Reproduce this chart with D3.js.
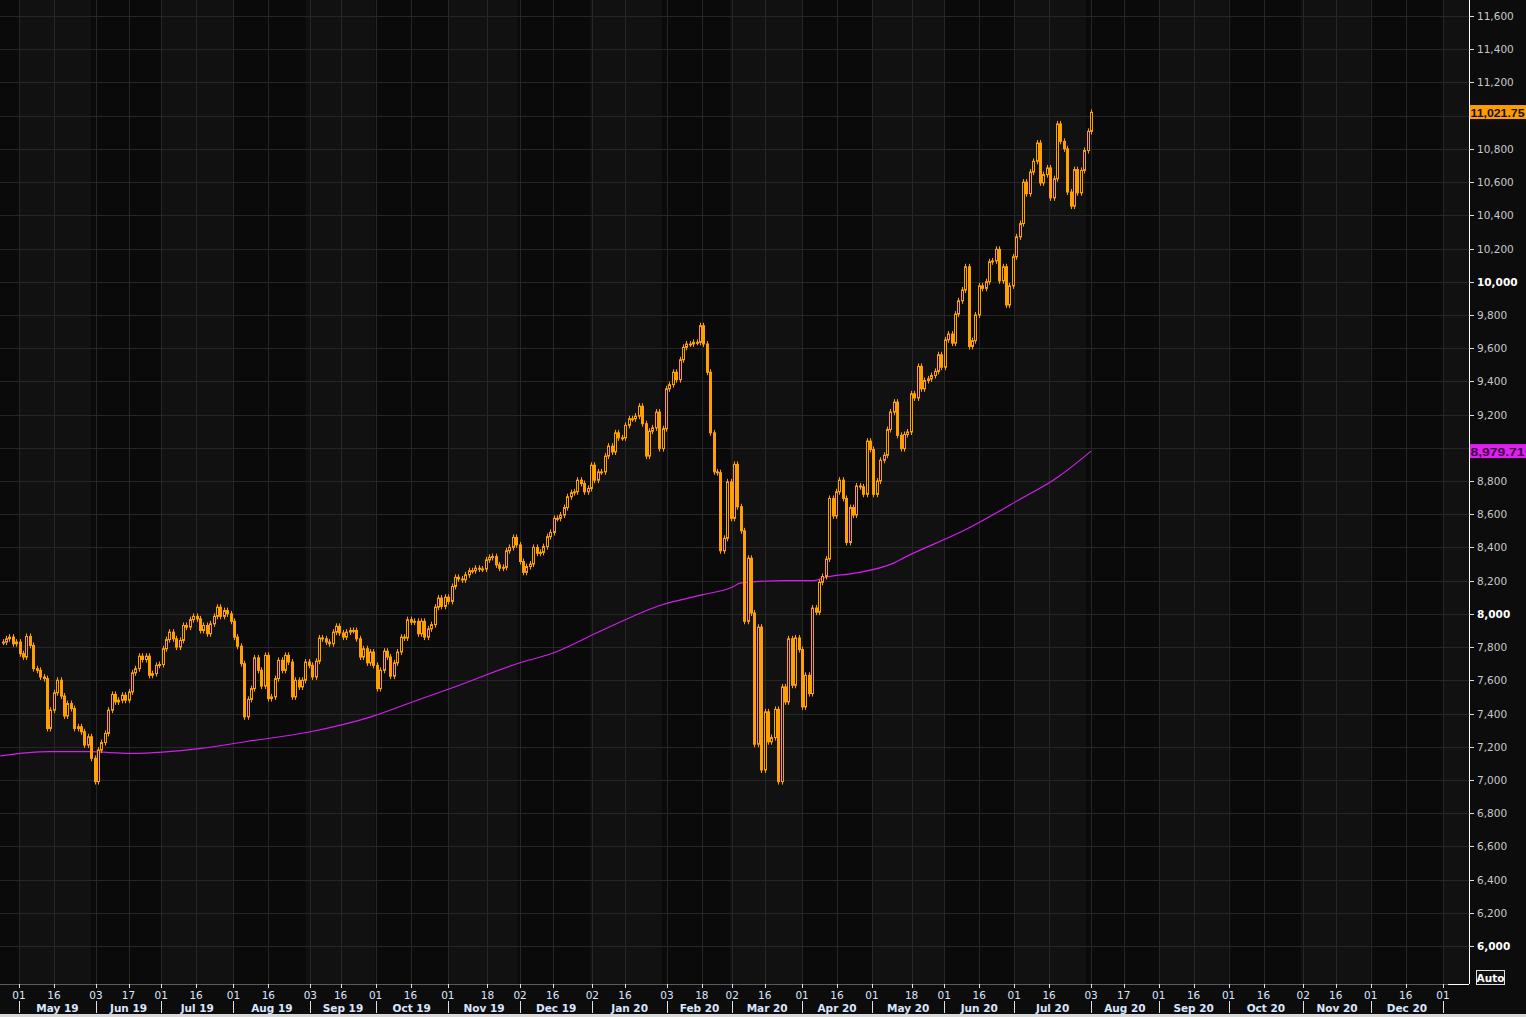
<!DOCTYPE html>
<html><head><meta charset="utf-8">
<script src="https://cdn.jsdelivr.net/npm/d3@7"></script>
<style>html,body{margin:0;padding:0;background:#0c0c0c;overflow:hidden}svg{display:block}</style>
</head><body><svg id="c" width="1526" height="1017"></svg>
<script>
// ---- data (daily closes, oldest first) ----
const closesA = [7830,7850,7860,7820,7830,
 7760,7740,7864,7810,7670,7660,7620,7610,7310,7420,7525,7600,7505,7385,7460,7430,7310,7320,7290,7210,7260,7130,
 6990,7180,7225,7280,7420,7515,7470,7480,7510,7480,7530,7645,7670,7745,7725,7745,7630,7640,7690,7695,
 7790,7845,7890,7850,7800,7840,7930,7920,7965];
const closesB = [7985,7970,7900,7930,7880,7940,7985,8040,7985,8020,8000,7955,7860,
 7805,7700,7380,7485,7550,7735,7660,7565,7750,7490,7500,7610,7720,7660,7750,7710,7500,7600,7560,7600,7710,7690,
 7620,7715,7855,7850,7830,7820,7890,7925,7885,7860,7890,7900,7900,7850,7740];
const closesC = [7790,7705,7770,7690,7550,
 7660,7775,7740,7625,7705,7770,7860,7855,7965,7950,7955,7880,7955,7860,7910,7935,8040,8095,8045,8100,8075,8165,8220,8210,8205,8235,8260,8260,8275,8270,8270,8325,8340,8345,8295,8275,8280,8380,8400,8460,8415,8315,8250,8285,8300,8400,8365,8370,8405,8465,8490];
const closesD = [8575,8575,8595,8640,8705,8730,8735,8805,8785,8735,8755,8895,8805,8855,8855,8950,9010,8975,9090,9060,9060,9135,9175,9175,9190,9250,9145,8950,9100,9120,9215,8995,9115,9355,9380,9455,9410,9530,9605,9625,9625,9635,9635,9735,9625,9455,9090];
const closesE = [8855,8850,8380,8455,8795,8575,8900,8645,8500,7955,8335,8005,7215,7920,7060,7410,7230,7255,7425,6990,7560,7470,7850,7570,7855,7785,7440,7630,7520,8035,8010,8190,8225,8330,8695,8590,8735,8805,8695,8430,8640,8595,8770,8765,8720,9040,8990,8720,8800,8925,8955];
const closesF = [9110,9215,9275,9075,8995,9080,9095,9325,9300,9490,9355,9405,9415,9435,9460,9560,9485,9650,9685,9630,9805,9885,9950,10090,9610,9645,9800,9975,9960,10000,10120,10125,10195,10005,10090,9860,9975,10150,10270,10350,10600,10530,10660,10725,10835,10595,10645,10685,10505,10620,10950,10845,10800,10540,10455,10675,10535,10670,10790,10905,11020];
const firstDate = "2019-04-24", lastDate = "2020-08-03";
const maDates = ["2019-04-23","2019-05-14","2019-05-31","2019-06-18","2019-07-18","2019-08-06","2019-09-03","2019-09-29","2019-10-20","2019-11-03","2019-12-03","2019-12-15","2020-01-06","2020-02-01","2020-02-18","2020-03-03","2020-03-05","2020-03-12","2020-03-25","2020-04-06","2020-04-11","2020-04-23","2020-05-10","2020-05-15","2020-06-10","2020-07-03","2020-07-20","2020-08-03"];
const maValues = [7145,7170,7170,7160,7190,7230,7290,7380,7486,7555,7710,7758,7900,8055,8114,8168,8184,8194,8200,8200,8220,8244,8304,8340,8506,8686,8826,8980];
const tickDates = ["2019-05-01","2019-05-16","2019-06-03","2019-06-17","2019-07-01","2019-07-16","2019-08-01","2019-08-16","2019-09-03","2019-09-16","2019-10-01","2019-10-16","2019-11-01","2019-11-18","2019-12-02","2019-12-16","2020-01-02","2020-01-16","2020-02-03","2020-02-18","2020-03-02","2020-03-16","2020-04-01","2020-04-16","2020-05-01","2020-05-18","2020-06-01","2020-06-16","2020-07-01","2020-07-16","2020-08-03","2020-08-17","2020-09-01","2020-09-16","2020-10-01","2020-10-16","2020-11-02","2020-11-16","2020-12-01","2020-12-16","2021-01-01"];
const monthLabels = ["May 19","Jun 19","Jul 19","Aug 19","Sep 19","Oct 19","Nov 19","Dec 19","Jan 20","Feb 20","Mar 20","Apr 20","May 20","Jun 20","Jul 20","Aug 20","Sep 20","Oct 20","Nov 20","Dec 20"];
const yTicks = d3.range(6000, 11601, 200);
const lastPrice = "11,021.75", lastPriceVal = 11021.75;
const maLast = "8,979.71";

// ---- build ----
const parse = d3.utcParse("%Y-%m-%d");
const closes = [].concat(closesA, closesB, closesC, closesD, closesE, closesF);
const candles = closes.map((c, i) => ({i, open: i ? closes[i-1] : c, close: c}));

const W = 1526, H = 1017, plotR = 1469, plotB = 984;
const x = d3.scaleUtc().domain([parse("2019-05-01"), parse("2021-01-01")]).range([19, 1443]);
// candles evenly spaced from first to last session
const xi = d3.scaleLinear().domain([0, closes.length-1]).range([x(parse(firstDate)), x(parse(lastDate))]);
const y = d3.scaleLinear().domain([6000, 11600]).range([946, 16]);
const svg = d3.select("#c");
const F = "DejaVu Sans, Verdana, sans-serif";
svg.append("rect").attr("width", W).attr("height", H).attr("fill", "#0c0c0c");
svg.append("clipPath").attr("id","pc").append("rect").attr("x",0).attr("y",0).attr("width",plotR).attr("height",plotB);
const plot = svg.append("g").attr("clip-path","url(#pc)");
const months = d3.utcMonth.range(parse("2019-04-01"), parse("2021-02-01"));
plot.selectAll("rect.band").data(months).join("rect")
  .attr("x", m => x(m)).attr("width", m => x(d3.utcMonth.offset(m,1)) - x(m))
  .attr("y", 0).attr("height", plotB)
  .attr("fill", (m,i) => i % 2 ? "#111111" : "#0a0a0a");
plot.selectAll("line.hg").data(yTicks).join("line")
  .attr("x1",0).attr("x2",plotR).attr("y1",v=>Math.round(y(v))+0.5).attr("y2",v=>Math.round(y(v))+0.5)
  .attr("stroke","#262626");
plot.selectAll("line.vg").data(tickDates.map(parse)).join("line")
  .attr("x1",t=>Math.round(x(t))+0.5).attr("x2",t=>Math.round(x(t))+0.5).attr("y1",0).attr("y2",plotB)
  .attr("stroke","#262626");
const ma = maDates.map((s,i)=>({date: parse(s), v: maValues[i]}));
plot.append("path").datum(ma)
  .attr("d", d3.line().x(p=>x(p.date)).y(p=>y(p.v)).curve(d3.curveMonotoneX))
  .attr("fill","none").attr("stroke","#d21ef0").attr("stroke-width",1.2);
const orange = "#ffa000";
const cg = plot.append("g");
cg.selectAll("line").data(candles).join("line")
  .attr("x1",c=>Math.round(xi(c.i))+0.5).attr("x2",c=>Math.round(xi(c.i))+0.5)
  .attr("y1",c=>y(Math.max(c.open,c.close))-3).attr("y2",c=>y(Math.min(c.open,c.close))+3)
  .attr("stroke",orange).attr("stroke-width",1);
cg.selectAll("rect").data(candles).join("rect")
  .attr("x",c=>Math.round(xi(c.i))-0.5).attr("width",2)
  .attr("y",c=>y(Math.max(c.open,c.close))).attr("height",c=>Math.max(1,Math.abs(y(c.open)-y(c.close))))
  .attr("fill",c=>c.close<c.open?orange:"#0c0c0c")
  .attr("stroke",orange).attr("stroke-width",1);
svg.append("line").attr("x1",0).attr("x2",1448).attr("y1",plotB+0.5).attr("y2",plotB+0.5).attr("stroke","#5a5a5a");
svg.append("line").attr("x1",1448).attr("x2",plotR).attr("y1",plotB+0.5).attr("y2",plotB+0.5).attr("stroke","#ffffff");
svg.append("line").attr("x1",plotR+0.5).attr("x2",plotR+0.5).attr("y1",0).attr("y2",plotB).attr("stroke","#ffffff");
// right axis
const tagVals = [lastPriceVal, maValues[maValues.length-1]];
const shown = yTicks.filter(v => tagVals.every(t => Math.abs(y(v)-y(t)) > 9));
const ra = svg.append("g").attr("font-family",F).attr("font-size",10.5);
ra.selectAll("line").data(yTicks).join("line")
  .attr("x1",plotR).attr("x2",plotR+5).attr("y1",v=>Math.round(y(v))+0.5).attr("y2",v=>Math.round(y(v))+0.5).attr("stroke","#dddddd");
ra.selectAll("text").data(shown).join("text")
  .attr("x",1477).attr("y",v=>y(v)+4)
  .attr("fill",v=>v%2000===0?"#ffffff":"#c9c9c9").attr("font-weight",v=>v%2000===0?"bold":"normal")
  .text(v=>d3.format(",")(v));
function tag(val, text, bg, fg){
  const yy = y(val);
  svg.append("rect").attr("x",plotR+1).attr("y",yy-7).attr("width",W-plotR-1).attr("height",14).attr("fill",bg);
  svg.append("text").attr("x",1470.5).attr("y",yy+4.5).attr("fill",fg).attr("font-family","Liberation Sans, Arial, sans-serif")
    .attr("font-size",11.5).attr("font-weight","bold").attr("textLength",54).attr("lengthAdjust","spacingAndGlyphs").text(text);
}
tag(lastPriceVal, lastPrice, "#ff9d00", "#111");
tag(maValues[maValues.length-1], maLast, "#e020f0", "#3a003f");
svg.append("rect").attr("x",1476.5).attr("y",970.5).attr("width",28).attr("height",14).attr("fill","#111").attr("stroke","#e0e0e0");
svg.append("text").attr("x",1490.5).attr("y",981.5).attr("text-anchor","middle").attr("fill","#ffffff")
  .attr("font-family",F).attr("font-size",10.5).attr("font-weight","bold").text("Auto");
// bottom axis
const ba = svg.append("g").attr("font-family",F).attr("fill","#dbe6ff");
const td = tickDates.map(parse);
ba.selectAll("line").data(td).join("line")
  .attr("x1",t=>Math.round(x(t))+0.5).attr("x2",t=>Math.round(x(t))+0.5).attr("y1",plotB).attr("y2",plotB+4).attr("stroke","#e0e0e0");
ba.selectAll("text.t").data(td).join("text").attr("class","t")
  .attr("x",t=>x(t)).attr("y",999).attr("text-anchor","middle").attr("font-size",10.5)
  .text(t=>d3.utcFormat("%d")(t));
const firsts = td.filter((t,i)=> i===0 || t.getUTCMonth()!==td[i-1].getUTCMonth());
ba.selectAll("line.sep").data(firsts).join("line")
  .attr("x1",t=>Math.round(x(t))+0.5).attr("x2",t=>Math.round(x(t))+0.5).attr("y1",1001).attr("y2",1013).attr("stroke","#e0e0e0");
ba.selectAll("text.m").data(firsts.slice(0,-1)).join("text").attr("class","m")
  .attr("x",(t,i)=>(x(t)+x(firsts[i+1]))/2).attr("y",1011.5).attr("text-anchor","middle")
  .attr("font-size",10.5).attr("font-weight","bold").text((t,i)=>monthLabels[i]);
svg.append("rect").attr("x",0).attr("y",1014).attr("width",W).attr("height",3).attr("fill","#d8d8d8");
</script></body></html>
